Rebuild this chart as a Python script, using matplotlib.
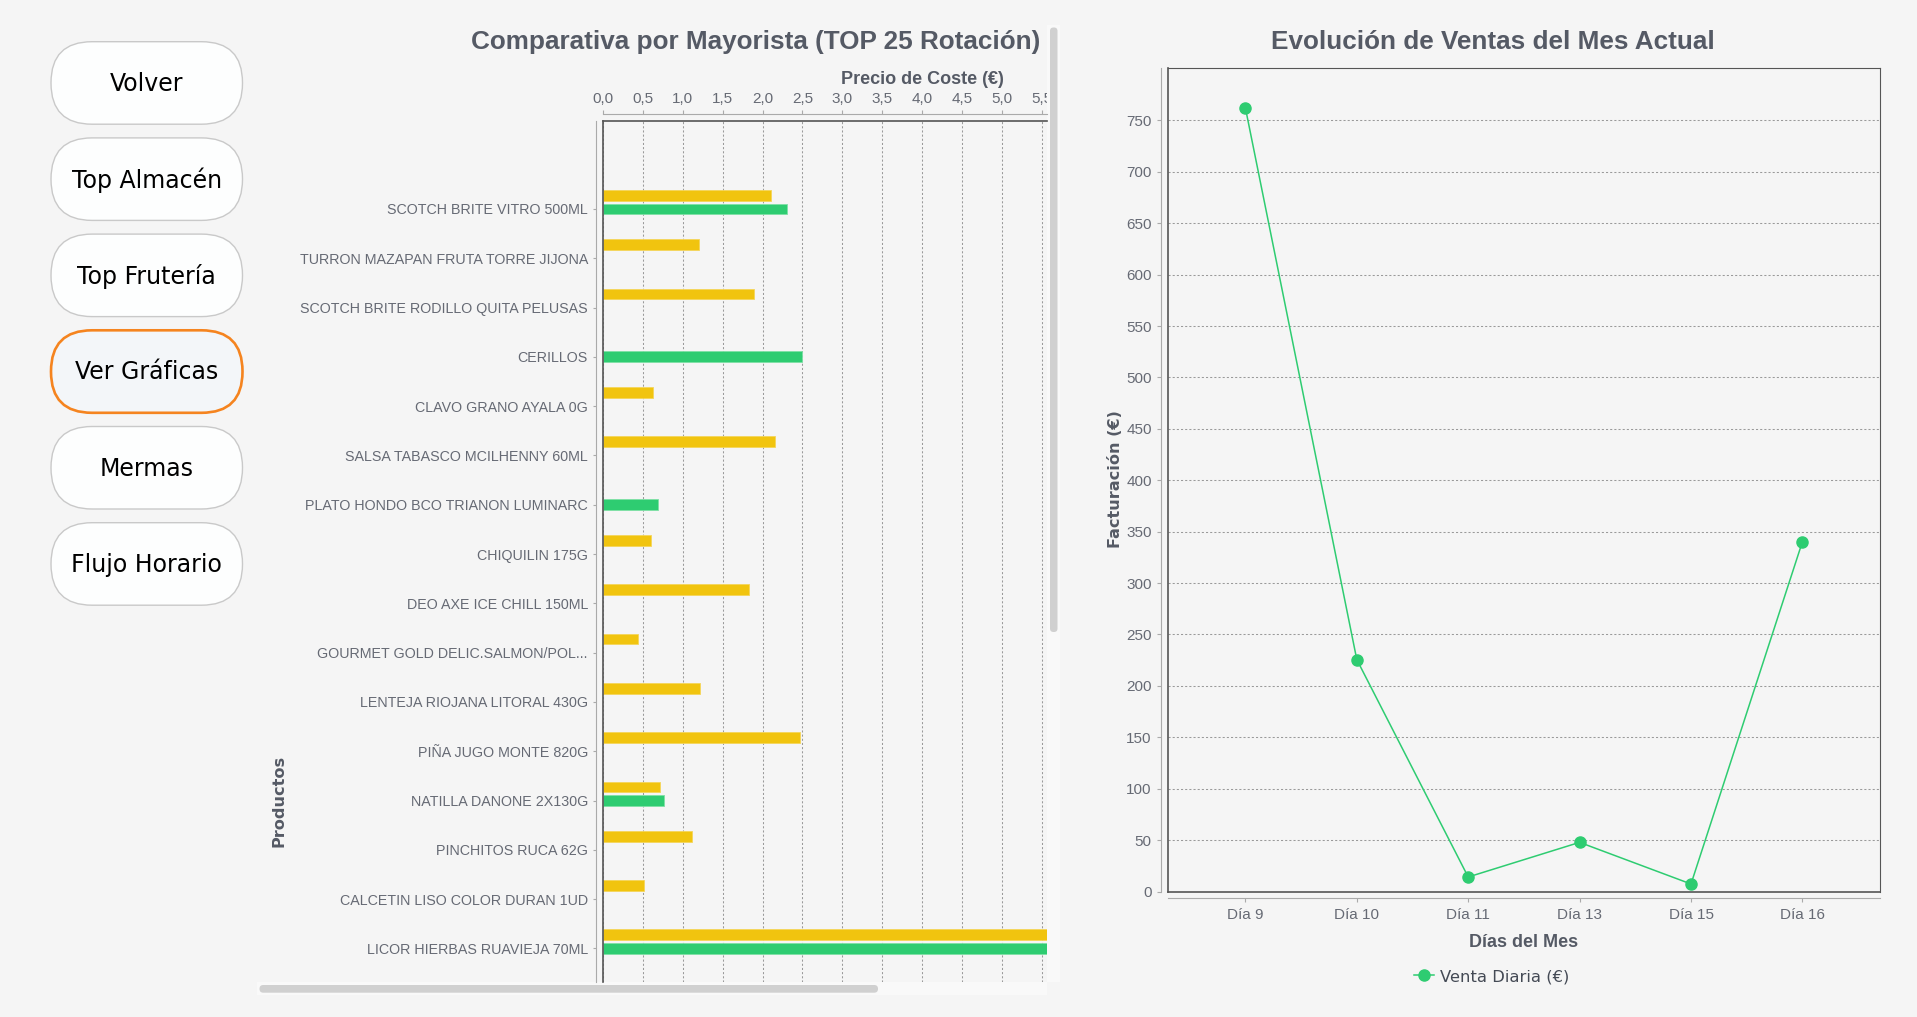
"""Panel de graficas: comparativa por mayorista y evolucion de ventas del mes."""
import matplotlib

matplotlib.use("Agg")
import matplotlib.pyplot as plt
import numpy as np
from matplotlib.patches import FancyBboxPatch, Rectangle
from matplotlib.transforms import Bbox, TransformedBbox

plt.rcParams["font.family"] = ["Liberation Sans", "DejaVu Sans"]

# --- datos -----------------------------------------------------------------
PRODUCTOS = [
    "SCOTCH BRITE VITRO 500ML",
    "TURRON MAZAPAN FRUTA TORRE JIJONA",
    "SCOTCH BRITE RODILLO QUITA PELUSAS",
    "CERILLOS",
    "CLAVO GRANO AYALA 0G",
    "SALSA TABASCO MCILHENNY 60ML",
    "PLATO HONDO BCO TRIANON LUMINARC",
    "CHIQUILIN 175G",
    "DEO AXE ICE CHILL 150ML",
    "GOURMET GOLD DELIC.SALMON/POL...",
    "LENTEJA RIOJANA LITORAL 430G",
    "PIÑA JUGO MONTE 820G",
    "NATILLA DANONE 2X130G",
    "PINCHITOS RUCA 62G",
    "CALCETIN LISO COLOR DURAN 1UD",
    "LICOR HIERBAS RUAVIEJA 70ML",
]
nan = np.nan
PRECIO_AMARILLO = [2.11, 1.20, 1.89, nan, 0.63, 2.16, nan, 0.60, 1.83, 0.44,
                   1.21, 2.47, 0.71, 1.11, 0.51, 6.20]
PRECIO_VERDE = [2.31, nan, nan, 2.50, nan, nan, 0.69, nan, nan, nan,
                nan, nan, 0.76, nan, nan, 6.20]

DIAS = ["Día 9", "Día 10", "Día 11", "Día 13", "Día 15", "Día 16"]
VENTAS = [762.2, 225.6, 14.1, 47.8, 7.3, 340.2]

BOTONES = ["Volver", "Top Almacén", "Top Frutería", "Ver Gráficas", "Mermas", "Flujo Horario"]
BOTON_ACTIVO = "Ver Gráficas"

# --- estilo ----------------------------------------------------------------
BG = "#f5f5f5"
YELLOW = "#f1c40f"
GREEN = "#2ecc71"
TITLE = "#555a65"
TICK = "#666a74"
AXIS_GRAY = "#aaaaaa"
OUTLINE = "#555555"
GRID = "#9a9a9a"

W, H = 1917, 1017


def px_rect(left, top, right, bottom):
    return [left / W, 1 - bottom / H, (right - left) / W, (bottom - top) / H]


fig = plt.figure(figsize=(W / 100, H / 100), dpi=100, facecolor=BG)

# fondo en pixeles: botones y barras de scroll
bg = fig.add_axes([0, 0, 1, 1], zorder=0)
bg.set_xlim(0, W)
bg.set_ylim(H, 0)
bg.axis("off")

for i, label in enumerate(BOTONES):
    top = 41.7 + i * 96.2
    active = label == BOTON_ACTIVO
    bg.add_patch(FancyBboxPatch(
        (51, top), 191.5, 82.5, boxstyle="round,pad=0,rounding_size=41",
        facecolor="#f3f6f9" if active else "#fdfefe",
        edgecolor="#f5841f" if active else "#c9c9c9",
        linewidth=1.9 if active else 1.0))
    bg.text(146.7, top + 42, label, ha="center", va="center", fontsize=17,
            family="DejaVu Sans", color="black")

bg.add_patch(Rectangle((1047, 25), 13, 957, facecolor="#f9f9f9", edgecolor="none"))
bg.add_patch(FancyBboxPatch((1050, 27.5), 7.5, 604.5, boxstyle="round,pad=0,rounding_size=3.5",
                            facecolor="#d0d0d0", edgecolor="none"))
bg.add_patch(Rectangle((257, 981.7), 790, 13.3, facecolor="#f9f9f9", edgecolor="none"))
bg.add_patch(FancyBboxPatch((259.5, 985), 618.5, 7.7, boxstyle="round,pad=0,rounding_size=3.8",
                            facecolor="#d0d0d0", edgecolor="none"))

# --- comparativa por mayorista --------------------------------------------
ax1 = fig.add_axes(px_rect(603.2, 121, 1046.7, 981.7), zorder=1)
ax1.set_facecolor("none")
y = np.arange(len(PRODUCTOS))
ax1.barh(y - 0.276, PRECIO_AMARILLO, height=0.22, color=YELLOW, edgecolor="#f5d65a", linewidth=0.6)
ax1.barh(y, PRECIO_VERDE, height=0.22, color=GREEN, edgecolor="#7ee0a6", linewidth=0.6)
ax1.set_xlim(0, 5.565)
ax1.set_ylim(15.674, -1.785)

xt = np.arange(0, 5.51, 0.5)
ax1.xaxis.tick_top()
ax1.set_xticks(xt, [f"{v:.1f}".replace(".", ",") for v in xt])
ax1.set_yticks(y, PRODUCTOS)
for side in ("right", "bottom"):
    ax1.spines[side].set_visible(False)
for side in ("top", "left"):
    ax1.spines[side].set_position(("outward", 5))
    ax1.spines[side].set_color(AXIS_GRAY)
ax1.tick_params(axis="x", top=True, bottom=False, length=3, width=0.8, color=AXIS_GRAY,
                pad=3, labelsize=11, labelcolor=TICK)
ax1.tick_params(axis="y", length=2.5, width=0.8, color=AXIS_GRAY, pad=3.5,
                labelsize=10.3, labelcolor=TICK)
ax1.grid(axis="x", color=GRID, linestyle=(0, (2, 2)), linewidth=0.75)
ax1.set_axisbelow(True)
ax1.plot([0, 1], [1, 1], transform=ax1.transAxes, color=OUTLINE, lw=1.2, clip_on=False)
ax1.plot([0, 0], [0, 1], transform=ax1.transAxes, color=OUTLINE, lw=1.2, clip_on=False)

clip = TransformedBbox(Bbox([[0, 0], [1046.7 / W, 1]]), fig.transFigure)
for lbl in ax1.get_xticklabels():
    lbl.set_clip_box(clip)
    lbl.set_clip_on(True)

fig.text(756 / W, 1 - 42 / H, "Comparativa por Mayorista (TOP 25 Rotación)", ha="center",
         va="center", fontsize=18.8, fontweight="bold", color=TITLE)
fig.text(922.5 / W, 1 - 80 / H, "Precio de Coste (€)", ha="center", va="center",
         fontsize=13, fontweight="bold", color=TITLE)
fig.text(278.7 / W, 1 - 800.5 / H, "Productos", ha="center", va="center", rotation=90,
         fontsize=11.6, fontweight="bold", family="DejaVu Sans", color=TITLE)

# --- evolucion de ventas ---------------------------------------------------
ax2 = fig.add_axes(px_rect(1168.3, 68.3, 1879.5, 891.5), zorder=1)
ax2.set_facecolor("none")
x = np.arange(len(DIAS))
ax2.plot(x, VENTAS, color=GREEN, lw=1.1, marker="o", ms=8, label="Venta Diaria (€)")
ax2.set_xlim(-0.692, 5.692)
ax2.set_ylim(0, 800.7)
ax2.set_xticks(x, DIAS)
ax2.set_yticks(np.arange(0, 751, 50))
for side in ("top", "right"):
    ax2.spines[side].set_color(OUTLINE)
for side in ("left", "bottom"):
    ax2.spines[side].set_position(("outward", 5))
    ax2.spines[side].set_color(AXIS_GRAY)
ax2.plot([0, 1], [0, 0], transform=ax2.transAxes, color=OUTLINE, lw=1.2, clip_on=False)
ax2.plot([0, 0], [0, 1], transform=ax2.transAxes, color=OUTLINE, lw=1.2, clip_on=False)
ax2.tick_params(axis="both", length=3, width=0.8, color=AXIS_GRAY, pad=4,
                labelsize=11, labelcolor=TICK)
ax2.grid(axis="y", color=GRID, linestyle=(0, (2, 2)), linewidth=0.75)
ax2.set_axisbelow(True)

fig.text(1493 / W, 1 - 42 / H, "Evolución de Ventas del Mes Actual", ha="center",
         va="center", fontsize=18.8, fontweight="bold", color=TITLE)
fig.text(1523.5 / W, 1 - 942.7 / H, "Días del Mes", ha="center", va="center",
         fontsize=13, fontweight="bold", color=TITLE)
fig.text(1115 / W, 1 - 479.5 / H, "Facturación (€)", ha="center", va="center", rotation=90,
         fontsize=11.6, fontweight="bold", family="DejaVu Sans", color=TITLE)
leg = ax2.legend(loc="center", bbox_to_anchor=(1492 / W, 1 - 976.7 / H),
                 bbox_transform=fig.transFigure, frameon=False, handlelength=1.2,
                 handletextpad=0.4, prop={"family": "DejaVu Sans", "size": 11.8})
for t in leg.get_texts():
    t.set_color("#444a55")

fig.savefig("out.png", dpi=100, facecolor=BG)
